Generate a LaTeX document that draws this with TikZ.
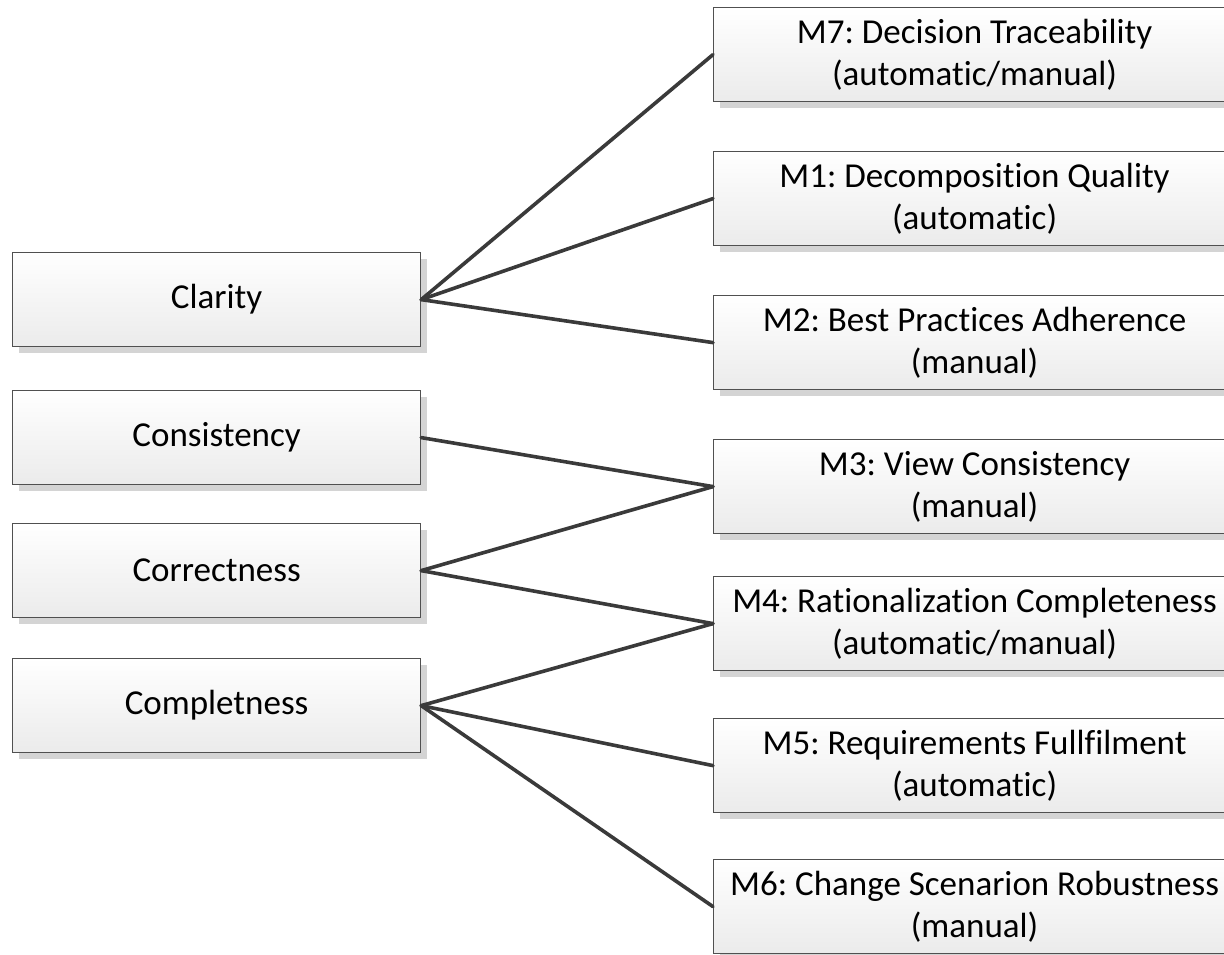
\documentclass[tikz,border=0pt]{standalone}
\usepackage{fontspec}
\setmainfont{Carlito}[Ligatures={NoCommon,NoContextual,NoRequired,NoRare}]
\usetikzlibrary{shadows}
\definecolor{boxborder}{HTML}{505050}
\definecolor{boxbottom}{HTML}{EBEBEB}
\definecolor{shadowgray}{HTML}{D4D4D4}
\definecolor{linkgray}{HTML}{3A3A3A}
\newcommand\myti{t\kern0pt i}
\begin{document}
\frenchspacing
\begin{tikzpicture}[x=1pt,y=-1pt]
\tikzset{
  box/.style={draw=boxborder, line width=1.2pt, top color=white, bottom color=boxbottom,
    minimum height=94pt, inner sep=0pt, align=center, anchor=north west,
    font=\fontsize{35}{42}\selectfont,
    drop shadow={shadow xshift=6pt, shadow yshift=-6pt, fill=shadowgray, opacity=1}},
  leftbox/.style={box, minimum width=408pt},
  rightbox/.style={box, minimum width=522pt},
  link/.style={draw=linkgray, line width=3.6pt, line cap=round}
}
\useasboundingbox (0,0) rectangle (1224,954);
\clip (0,0) rectangle (1224,954);
\node[leftbox] (cl) at (12,252) {Clarity};
\node[leftbox] (co) at (12,390) {Consistency};
\node[leftbox] (cr) at (12,523) {Correctness};
\node[leftbox] (cm) at (12,658) {Completness};
\node[rightbox] (m7) at (713,7) {M7: Decision Traceability\\(automa\myti c/manual)};
\node[rightbox] (m1) at (713,151) {M1: Decomposi\myti on Quality\\(automa\myti c)};
\node[rightbox] (m2) at (713,295) {M2: Best Prac\myti ces Adherence\\(manual)};
\node[rightbox] (m3) at (713,439) {M3: View Consistency\\(manual)};
\node[rightbox] (m4) at (713,576) {M4: Ra\myti onaliza\myti on Completeness\\(automa\myti c/manual)};
\node[rightbox] (m5) at (713,718) {M5: Requirements Fullfilment\\(automa\myti c)};
\node[rightbox] (m6) at (713,859) {M6: Change Scenarion Robustness\\(manual)};
\draw[link] (cl.east) -- (m7.west);
\draw[link] (cl.east) -- (m1.west);
\draw[link] (cl.east) -- (m2.west);
\draw[link] (co.east) -- (m3.west);
\draw[link] (cr.east) -- (m3.west);
\draw[link] (cr.east) -- (m4.west);
\draw[link] (cm.east) -- (m4.west);
\draw[link] (cm.east) -- (m5.west);
\draw[link] (cm.east) -- (m6.west);
\end{tikzpicture}
\end{document}
